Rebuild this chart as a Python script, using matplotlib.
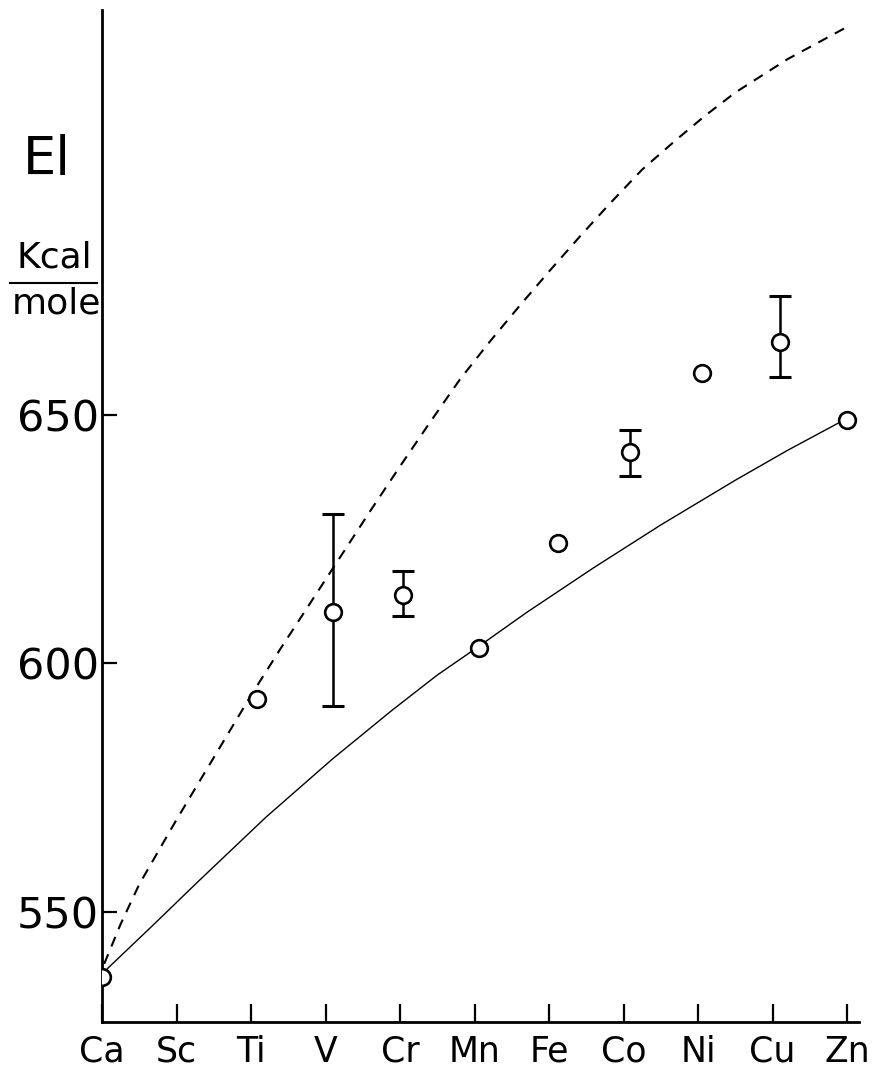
import matplotlib
matplotlib.use("Agg")
import matplotlib.pyplot as plt
from matplotlib.lines import Line2D

# 元素 (x軸)
elements = ["Ca", "Sc", "Ti", "V", "Cr", "Mn", "Fe", "Co", "Ni", "Cu", "Zn"]

# 測定点 (x位置は図から読んだ値)
pt_x = [0.0, 2.08, 3.10, 4.04, 5.06, 6.12, 7.08, 8.05, 9.10, 10.0]
pt_y = [536.8, 592.7, 610.2, 613.8, 603.0, 624.2, 642.5, 658.3, 664.7, 648.9]

# 誤差棒つきの点
err_x = [3.10, 4.04, 7.08, 9.10]
err_y = [610.2, 613.8, 642.5, 664.7]
err_lo = [591.4, 609.5, 637.7, 657.5]
err_hi = [630.1, 618.6, 647.0, 673.8]

# 破線の曲線
dash_x = [0.03, 0.25, 0.5, 1.0, 1.5, 2.0, 2.4, 2.8, 3.2, 3.6, 4.0, 4.4, 4.8,
          5.2, 5.6, 6.0, 6.4, 6.8, 7.25, 7.7, 8.1, 8.5, 9.2, 10.0]
dash_y = [539.5, 547.5, 555.5, 568.5, 581, 593.5, 603, 612.2, 621.4, 630.6, 639.6, 648.4, 657,
          664.6, 671.8, 678.8, 685.6, 692.2, 699.3, 705.2, 710.2, 714.8, 721.5, 728]

# 実線の曲線
solid_x = [0.0, 0.7, 1.3, 2.2, 3.1, 3.9, 4.5, 5.06, 5.7, 6.6, 7.5, 8.5, 9.2, 9.97]
solid_y = [537.5, 547.5, 556.2, 569, 580.8, 590.6, 597.6, 603.4, 610.2, 619.2, 627.8, 636.8, 642.8, 649]

y_ticks = [550, 600, 650]

W, H = 880, 1076
fig = plt.figure(figsize=(W / 100, H / 100), dpi=100)
ax = fig.add_axes([102 / W, 54 / H, 757 / W, 1012 / H])

ax.plot(dash_x, dash_y, color="black", lw=1.5, ls=(0, (5, 4)), zorder=2)
ax.plot(solid_x, solid_y, color="black", lw=1.0, zorder=2)

# 誤差棒
yerr = [[y - lo for y, lo in zip(err_y, err_lo)], [hi - y for y, hi in zip(err_y, err_hi)]]
ax.errorbar(err_x, err_y, yerr=yerr, fmt="none", ecolor="black", elinewidth=1.8,
            capsize=8, capthick=2.2, zorder=3)

ax.plot(pt_x, pt_y, ls="none", marker="o", ms=12, mfc="white", mec="black",
        mew=1.9, zorder=4)

ax.set_xlim(0, 10.16)
ax.set_ylim(527.8, 731.4)

for s in ["top", "right"]:
    ax.spines[s].set_visible(False)
for s in ["left", "bottom"]:
    ax.spines[s].set_linewidth(2.0)

ax.set_xticks(range(len(elements)))
ax.set_xticklabels(elements)
ax.set_yticks(y_ticks)
ax.set_yticklabels([str(v) for v in y_ticks])
ax.tick_params(axis="x", direction="in", length=13, width=1.6, pad=9, labelsize=25)
ax.tick_params(axis="y", direction="in", length=11, width=1.6, pad=2, labelsize=31)

fig.text(23 / W, 1 - 160 / H, "El", fontsize=38, ha="left", va="center")
fig.text(54 / W, 1 - 258 / H, "Kcal", fontsize=26, ha="center", va="center")
fig.text(56 / W, 1 - 303 / H, "mole", fontsize=26, ha="center", va="center")
fig.add_artist(Line2D([10 / W, 97 / W], [1 - 283 / H, 1 - 283 / H], color="black", lw=1.5))

fig.savefig("out.png", dpi=100)
